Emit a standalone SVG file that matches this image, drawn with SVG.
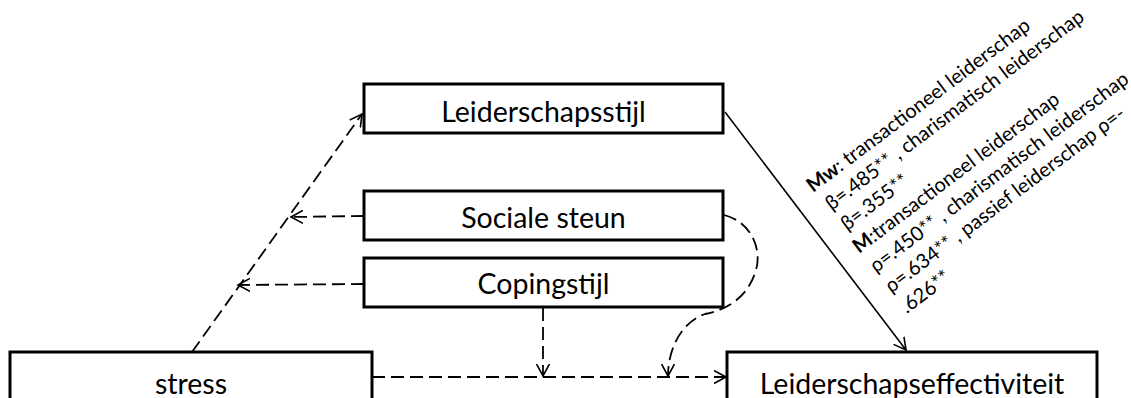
<svg xmlns="http://www.w3.org/2000/svg" width="1131" height="398" viewBox="0 0 1131 398">
<style>
.box{fill:#fff;stroke:#000;stroke-width:3}
.lbl{font-family:Lato,"Liberation Sans",sans-serif;font-size:28.5px;fill:#000;text-anchor:middle}
.dash{fill:none;stroke:#000;stroke-width:1.8;stroke-dasharray:13,6}
.solid{fill:none;stroke:#000;stroke-width:1.6}
.note{font-family:Lato,"Liberation Sans",sans-serif;font-size:20px;fill:#000}
</style>
<defs>
<marker id="arr" viewBox="0 0 14 14" refX="12" refY="7" markerWidth="14" markerHeight="14" markerUnits="userSpaceOnUse" orient="auto">
<path d="M0,0.5 L12,7 L0,13.5" fill="none" stroke="#000" stroke-width="1.6"/>
</marker>
</defs>
<rect width="1131" height="398" fill="#fff"/>
<g id="connectors">
<path class="dash" d="M192,352 L362,114" marker-end="url(#arr)"/>
<path class="dash" d="M364,216 L291,217" marker-end="url(#arr)"/>
<path class="dash" d="M364,284 L238,285" marker-end="url(#arr)"/>
<path class="dash" d="M372,377 L726,377" marker-end="url(#arr)"/>
<path class="dash" d="M543,308 L543,376" marker-end="url(#arr)"/>
<path class="dash" d="M724,215 C752,222 762,250 756,270 C748,298 726,310 705,314 C682,322 668,348 668,376" marker-end="url(#arr)"/>
<path class="solid" d="M725,112 L906,350" marker-end="url(#arr)"/>
</g>
<g id="node-leiderschapsstijl">
<rect class="box" x="364" y="84" width="359" height="49"/>
<text class="lbl" x="543.5" y="122">Leiderschapsstijl</text>
</g>
<g id="node-sociale-steun">
<rect class="box" x="364" y="191" width="359" height="49"/>
<text class="lbl" x="543.5" y="228">Sociale steun</text>
</g>
<g id="node-copingstijl">
<rect class="box" x="364" y="258" width="359" height="49"/>
<text class="lbl" x="543.5" y="294">Copingstijl</text>
</g>
<g id="node-stress">
<rect class="box" x="10" y="352" width="362" height="60"/>
<text class="lbl" x="191" y="394">stress</text>
</g>
<g id="node-leiderschapseffectiviteit">
<rect class="box" x="727" y="352" width="370" height="60"/>
<text class="lbl" x="912" y="394">Leiderschapseffectiviteit</text>
</g>
<g id="annotation" transform="translate(813,193) rotate(-37)">
<text class="note" x="0" y="0"><tspan font-weight="bold">Mw</tspan>: transactioneel leiderschap</text>
<text class="note" x="4" y="25.5">β=.485** , charismatisch leiderschap</text>
<text class="note" x="4" y="51">β=.355**</text>
<text class="note" x="0" y="76.5"><tspan font-weight="bold">M</tspan>:transactioneel leiderschap</text>
<text class="note" x="2" y="102">ρ=.450** , charismatisch leiderschap</text>
<text class="note" x="2" y="127.5">ρ=.634** , passief leiderschap ρ=-</text>
<text class="note" x="2" y="153">.626**</text>
</g>
</svg>
